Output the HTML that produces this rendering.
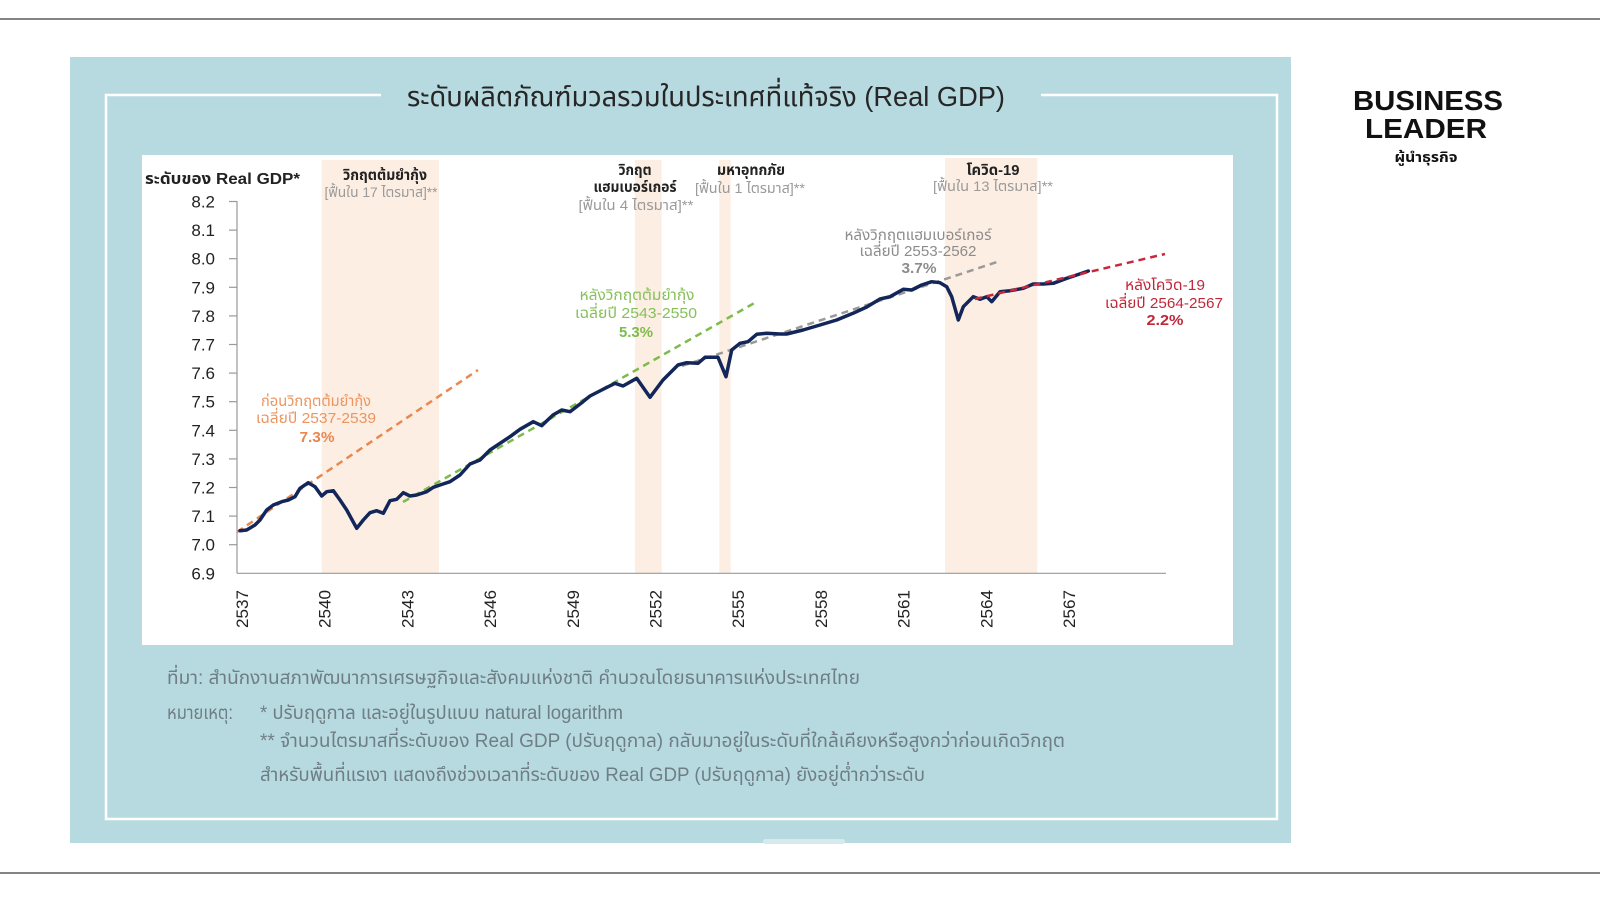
<!DOCTYPE html>
<html><head><meta charset="utf-8"><style>
html,body{margin:0;padding:0;background:#fff;width:1600px;height:900px;overflow:hidden}
svg{display:block}
text{font-family:"Liberation Sans","Noto Sans Thai","Loma","Garuda","Tlwg Typo","DejaVu Sans",sans-serif}
</style></head><body>
<svg width="1600" height="900" viewBox="0 0 1600 900" xmlns="http://www.w3.org/2000/svg">
<rect width="1600" height="900" fill="#fff"/>
<line x1="0" y1="19" x2="1600" y2="19" stroke="#5a5a5a" stroke-width="1.6"/>
<line x1="0" y1="873" x2="1600" y2="873" stroke="#5a5a5a" stroke-width="1.6"/>
<!-- panel -->
<rect x="70" y="57" width="1221" height="786" fill="#b7dae0"/>
<rect x="763" y="839" width="82" height="5" rx="2.5" fill="#d6eaee"/>
<polyline points="381,95 106,95 106,819 1277,819 1277,95 1041,95" fill="none" stroke="#fff" stroke-width="2.5"/>
<text x="407" y="106" font-size="28" fill="#262626" textLength="598" lengthAdjust="spacingAndGlyphs">ระดับผลิตภัณฑ์มวลรวมในประเทศที่แท้จริง (Real GDP)</text>
<!-- chart area -->
<rect x="142" y="155" width="1091" height="490" fill="#fff"/>
<g fill="#fdeee3">
<rect x="321.7" y="160" width="117.3" height="413"/>
<rect x="635" y="160" width="26.7" height="413"/>
<rect x="719.3" y="160" width="11.4" height="413"/>
<rect x="945" y="158" width="92.3" height="415"/>
</g>
<!-- axes -->
<g stroke="#9a9a9a" stroke-width="1.2">
<line x1="237" y1="201" x2="237" y2="573.3"/>
<line x1="237" y1="573.3" x2="1166" y2="573.3"/>
<line x1="229" y1="201.5" x2="237" y2="201.5"/>
<line x1="229" y1="230.1" x2="237" y2="230.1"/>
<line x1="229" y1="258.7" x2="237" y2="258.7"/>
<line x1="229" y1="287.3" x2="237" y2="287.3"/>
<line x1="229" y1="315.9" x2="237" y2="315.9"/>
<line x1="229" y1="344.5" x2="237" y2="344.5"/>
<line x1="229" y1="373.1" x2="237" y2="373.1"/>
<line x1="229" y1="401.7" x2="237" y2="401.7"/>
<line x1="229" y1="430.3" x2="237" y2="430.3"/>
<line x1="229" y1="458.9" x2="237" y2="458.9"/>
<line x1="229" y1="487.5" x2="237" y2="487.5"/>
<line x1="229" y1="516.1" x2="237" y2="516.1"/>
<line x1="229" y1="544.7" x2="237" y2="544.7"/>
</g>
<g font-size="17" fill="#222" text-anchor="end">
<text x="215" y="207.5">8.2</text>
<text x="215" y="236.1">8.1</text>
<text x="215" y="264.7">8.0</text>
<text x="215" y="293.3">7.9</text>
<text x="215" y="321.9">7.8</text>
<text x="215" y="350.5">7.7</text>
<text x="215" y="379.1">7.6</text>
<text x="215" y="407.7">7.5</text>
<text x="215" y="436.3">7.4</text>
<text x="215" y="464.9">7.3</text>
<text x="215" y="493.5">7.2</text>
<text x="215" y="522.1">7.1</text>
<text x="215" y="550.7">7.0</text>
<text x="215" y="579.3">6.9</text>
</g>
<g font-size="17" fill="#222" text-anchor="end">
<text transform="translate(248,590) rotate(-90)" textLength="38" lengthAdjust="spacingAndGlyphs">2537</text>
<text transform="translate(330.7,590) rotate(-90)" textLength="38" lengthAdjust="spacingAndGlyphs">2540</text>
<text transform="translate(413.4,590) rotate(-90)" textLength="38" lengthAdjust="spacingAndGlyphs">2543</text>
<text transform="translate(496.1,590) rotate(-90)" textLength="38" lengthAdjust="spacingAndGlyphs">2546</text>
<text transform="translate(578.8,590) rotate(-90)" textLength="38" lengthAdjust="spacingAndGlyphs">2549</text>
<text transform="translate(661.5,590) rotate(-90)" textLength="38" lengthAdjust="spacingAndGlyphs">2552</text>
<text transform="translate(744.2,590) rotate(-90)" textLength="38" lengthAdjust="spacingAndGlyphs">2555</text>
<text transform="translate(826.9,590) rotate(-90)" textLength="38" lengthAdjust="spacingAndGlyphs">2558</text>
<text transform="translate(909.6,590) rotate(-90)" textLength="38" lengthAdjust="spacingAndGlyphs">2561</text>
<text transform="translate(992.3,590) rotate(-90)" textLength="38" lengthAdjust="spacingAndGlyphs">2564</text>
<text transform="translate(1075,590) rotate(-90)" textLength="38" lengthAdjust="spacingAndGlyphs">2567</text>
</g>
<!-- trend lines -->
<g stroke-width="2.5" stroke-dasharray="7 5" fill="none">
<line x1="237" y1="532" x2="478" y2="370" stroke="#e8884f"/>
<line x1="403" y1="502" x2="755" y2="302.7" stroke="#7dbb4a"/>
<line x1="682" y1="366" x2="997" y2="262" stroke="#9a9a9a"/>
</g>
<!-- data line -->
<polyline fill="none" stroke="#13265a" stroke-width="3.5" stroke-linejoin="round" stroke-linecap="round" points="240,530.7 246.7,530 255,525 260,520 266.7,510 273.3,505 281.7,501.7 288.3,500 295,496.7 300,488.3 308.3,482.7 315,486.7 321.7,496 326.7,491.7 333.3,490.7 340,500 346.7,510 356.7,528.3 363.3,520 370,512.7 376.7,510.7 383.3,513.3 390,500.7 396.7,499.3 403.3,492.7 410,496 416.7,495 426.7,491.7 433.3,487.3 440,485 450,481.7 460,475 470,464 480,460 490,450 500,443.3 510,436.7 520,429.3 533.3,421.7 541.7,425.7 553,415 561.7,410 570,411.7 583,401.7 590,396 601.7,390 615,383.3 623,386 636.7,378.3 650,397.3 663,380 678,365 686.7,362.7 698,363.3 705,357.3 718,357.3 726,376.7 731.7,350 740,343.3 748,341.7 756.7,334.3 766.7,333.3 780,334 786.7,334 803,330 820,325 836.7,320 853,313.3 866.7,307 880,299 890,296.7 903.3,289.3 911.7,290 921.7,285 931.7,281.7 940,282.7 946.7,286.7 951.7,296.7 958.3,320 963.3,306.7 973.3,296.7 980,299.3 986.7,296.7 991.7,301.7 1000,291.7 1010,290.7 1023.3,288.3 1033.3,284 1043.3,284 1053.3,283.3 1066.7,278.3 1076.7,275 1088.3,271"/>
<line x1="975" y1="299" x2="1165" y2="254" stroke="#c8283c" stroke-width="2.5" stroke-dasharray="7 5"/>
<!-- annotations -->
<text x="145" y="184" font-size="16" font-weight="bold" fill="#222" textLength="155" lengthAdjust="spacingAndGlyphs">ระดับของ Real GDP*</text>
<g text-anchor="middle">
<text x="385" y="180" font-size="15" font-weight="bold" fill="#222" textLength="84" lengthAdjust="spacingAndGlyphs">วิกฤตต้มยำกุ้ง</text>
<text x="381" y="197" font-size="14" fill="#9a9a9a" textLength="113" lengthAdjust="spacingAndGlyphs">[ฟื้นใน 17 ไตรมาส]**</text>
<text x="635" y="175" font-size="15" font-weight="bold" fill="#222" textLength="33" lengthAdjust="spacingAndGlyphs">วิกฤต</text>
<text x="635" y="192" font-size="15" font-weight="bold" fill="#222" textLength="83" lengthAdjust="spacingAndGlyphs">แฮมเบอร์เกอร์</text>
<text x="636" y="210" font-size="14" fill="#9a9a9a" textLength="115" lengthAdjust="spacingAndGlyphs">[ฟื้นใน 4 ไตรมาส]**</text>
<text x="751" y="175" font-size="15" font-weight="bold" fill="#222" textLength="68" lengthAdjust="spacingAndGlyphs">มหาอุทกภัย</text>
<text x="750" y="193" font-size="14" fill="#9a9a9a" textLength="110" lengthAdjust="spacingAndGlyphs">[ฟื้นใน 1 ไตรมาส]**</text>
<text x="993" y="175" font-size="15" font-weight="bold" fill="#222" textLength="53" lengthAdjust="spacingAndGlyphs">โควิด-19</text>
<text x="993" y="191" font-size="14" fill="#9a9a9a" textLength="120" lengthAdjust="spacingAndGlyphs">[ฟื้นใน 13 ไตรมาส]**</text>

<text x="316" y="406" font-size="15" fill="#eb9560" textLength="110" lengthAdjust="spacingAndGlyphs">ก่อนวิกฤตต้มยำกุ้ง</text>
<text x="316" y="423" font-size="15" fill="#eb9560" textLength="120" lengthAdjust="spacingAndGlyphs">เฉลี่ยปี 2537-2539</text>
<text x="317" y="442" font-size="15" font-weight="bold" fill="#e8884f" textLength="35" lengthAdjust="spacingAndGlyphs">7.3%</text>

<text x="637" y="300" font-size="15" fill="#86c05a" textLength="115" lengthAdjust="spacingAndGlyphs">หลังวิกฤตต้มยำกุ้ง</text>
<text x="636" y="318" font-size="15" fill="#86c05a" textLength="122" lengthAdjust="spacingAndGlyphs">เฉลี่ยปี 2543-2550</text>
<text x="636" y="337" font-size="15" font-weight="bold" fill="#7dbb4a" textLength="34" lengthAdjust="spacingAndGlyphs">5.3%</text>

<text x="918" y="240" font-size="15" fill="#8c8c8c" textLength="147" lengthAdjust="spacingAndGlyphs">หลังวิกฤตแฮมเบอร์เกอร์</text>
<text x="918" y="256" font-size="15" fill="#8c8c8c" textLength="117" lengthAdjust="spacingAndGlyphs">เฉลี่ยปี 2553-2562</text>
<text x="919" y="273" font-size="15" font-weight="bold" fill="#8c8c8c" textLength="35" lengthAdjust="spacingAndGlyphs">3.7%</text>

<text x="1165" y="290" font-size="15" fill="#c0283a" textLength="80" lengthAdjust="spacingAndGlyphs">หลังโควิด-19</text>
<text x="1164" y="308" font-size="15" fill="#c0283a" textLength="118" lengthAdjust="spacingAndGlyphs">เฉลี่ยปี 2564-2567</text>
<text x="1165" y="325" font-size="15" font-weight="bold" fill="#c0283a" textLength="37" lengthAdjust="spacingAndGlyphs">2.2%</text>
</g>
<!-- footnotes -->
<g font-size="19" fill="#6f7e85">
<text x="167" y="684" textLength="693" lengthAdjust="spacingAndGlyphs">ที่มา: สำนักงานสภาพัฒนาการเศรษฐกิจและสังคมแห่งชาติ คำนวณโดยธนาคารแห่งประเทศไทย</text>
<text x="167" y="719" textLength="66" lengthAdjust="spacingAndGlyphs">หมายเหตุ:</text>
<text x="260" y="719" textLength="363" lengthAdjust="spacingAndGlyphs">* ปรับฤดูกาล และอยู่ในรูปแบบ natural logarithm</text>
<text x="260" y="747" textLength="805" lengthAdjust="spacingAndGlyphs">** จำนวนไตรมาสที่ระดับของ Real GDP (ปรับฤดูกาล) กลับมาอยู่ในระดับที่ใกล้เคียงหรือสูงกว่าก่อนเกิดวิกฤต</text>
<text x="260" y="781" textLength="665" lengthAdjust="spacingAndGlyphs">สำหรับพื้นที่แรเงา แสดงถึงช่วงเวลาที่ระดับของ Real GDP (ปรับฤดูกาล) ยังอยู่ต่ำกว่าระดับ</text>
</g>
<!-- logo -->
<g fill="#111" font-weight="bold">
<text x="1353" y="110" font-size="28" textLength="150" lengthAdjust="spacingAndGlyphs">BUSINESS</text>
<text x="1365" y="138" font-size="28" textLength="122" lengthAdjust="spacingAndGlyphs">LEADER</text>
<text x="1426" y="162" font-size="14" text-anchor="middle" textLength="63" lengthAdjust="spacingAndGlyphs">ผู้นำธุรกิจ</text>
</g>
</svg>
</body></html>
